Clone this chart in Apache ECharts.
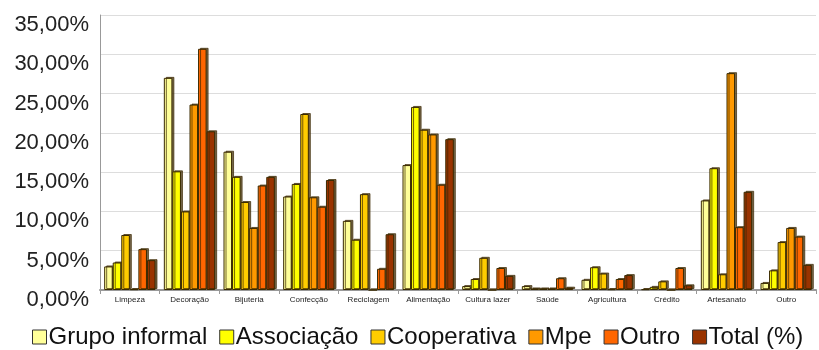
<!DOCTYPE html>
<html>
<head>
<meta charset="utf-8">
<script src="https://cdn.jsdelivr.net/npm/echarts@6/dist/echarts.min.js"></script>
<style>html,body{margin:0;padding:0;background:#fff}#c{width:819px;height:350px}</style>
</head>
<body>
<div id="c"></div>
<script>
var categories = ['Limpeza','Decoração','Bijuteria','Confecção','Reciclagem','Alimentação','Cultura lazer','Saúde','Agricultura','Crédito','Artesanato','Outro'];
var seriesNames = ['Grupo informal','Associação','Cooperativa','Mpe','Outro','Total (%)'];
var grupoInformal = [3.0, 27.0, 17.6, 11.9, 8.8, 15.9, 0.5, 0.5, 1.3, 0.1, 11.4, 0.9];
var associacao    = [3.5, 15.1, 14.4, 13.5, 6.4, 23.3, 1.4, 0.2, 2.9, 0.4, 15.5, 2.5];
var cooperativa   = [7.0, 10.0, 11.2, 22.4, 12.2, 20.4, 4.1, 0.2, 2.1, 1.1, 2.0, 6.1];
var mpe           = [0.1, 23.6, 7.9, 11.8, 0.0, 19.8, 0.0, 0.2, 0.1, 0.0, 27.6, 7.9];
var outro         = [5.2, 30.7, 13.3, 10.6, 2.7, 13.4, 2.8, 1.5, 1.4, 2.8, 8.0, 6.8];
var total         = [3.8, 20.2, 14.4, 14.0, 7.1, 19.2, 1.8, 0.3, 1.9, 0.6, 12.5, 3.2];
var yTicks = [0,5,10,15,20,25,30,35];

var colors = ['#FFFF99','#FFFF00','#FFCC00','#FF9900','#FF6600','#993300'];
var allData = [grupoInformal, associacao, cooperativa, mpe, outro, total];

var chart = echarts.init(document.getElementById('c'));
chart.setOption({
  animation: false,
  color: colors,
  grid: {left: 100, right: 3, top: 15, bottom: 60},
  legend: {
    top: 320, left: 27,
    itemWidth: 14, itemHeight: 14, itemGap: 12,
    icon: 'rect',
    textStyle: {fontFamily: 'Liberation Sans, Arial', fontSize: 24, color: '#111', padding: [0,0,0,-3]},
    itemStyle: {borderColor: '#333', borderWidth: 1}
  },
  xAxis: {
    type: 'category', data: categories,
    axisLine: {lineStyle: {color: '#999', width: 2}},
    axisTick: {show: true, length: 4, lineStyle: {color: '#999'}},
    axisLabel: {fontFamily: 'Liberation Sans, Arial', fontSize: 8, color: '#222', margin: 6, interval: 0}
  },
  yAxis: {
    type: 'value', min: 0, max: 35, interval: 5,
    axisLine: {show: true, lineStyle: {color: '#999'}},
    axisTick: {show: false},
    splitLine: {lineStyle: {color: '#ddd'}},
    axisLabel: {
      fontFamily: 'Liberation Sans, Arial', fontSize: 22, color: '#222', margin: 11,
      verticalAlign: 'top', lineHeight: 20,
      formatter: function(v){ return v.toFixed(2).replace('.', ',') + '%'; }
    }
  },
  series: seriesNames.map(function(n, i){
    return {
      name: n, type: 'bar', data: allData[i],
      barGap: '0%', barCategoryGap: '14%',
      itemStyle: {borderColor: '#3a2a00', borderWidth: 1, shadowColor: 'rgba(60,40,0,0.7)', shadowOffsetX: 2, shadowOffsetY: -1}
    };
  })
});
</script>
</body>
</html>
